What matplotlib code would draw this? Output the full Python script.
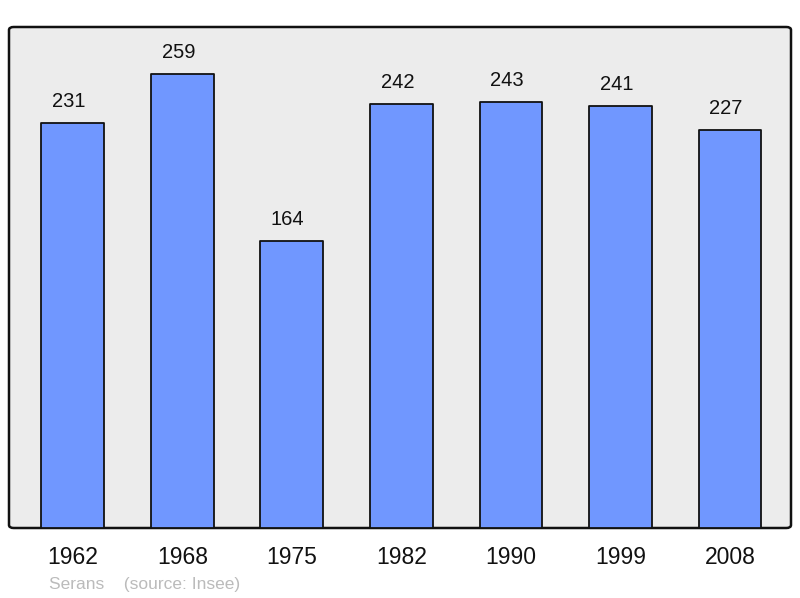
import matplotlib.pyplot as plt
from matplotlib.patches import FancyBboxPatch

# Population de Serans
years = ["1962", "1968", "1975", "1982", "1990", "1999", "2008"]
population = [231, 259, 164, 242, 243, 241, 227]

plt.rcParams['font.family'] = ['Liberation Sans', 'DejaVu Sans']

fig = plt.figure(figsize=(8, 5.98), dpi=100)
ax = fig.add_axes([9 / 800, 70 / 598, 782 / 800, 501 / 598])
ax.set_facecolor('none')

# fond gris avec coins arrondis
frame = FancyBboxPatch((0, 0), 1, 1, boxstyle="round,pad=0,rounding_size=0.006",
                       transform=ax.transAxes, facecolor='#ececec', edgecolor='#111111',
                       linewidth=1.8, zorder=0, clip_on=False)
ax.add_patch(frame)
for s in ax.spines.values():
    s.set_visible(False)

x = list(range(len(years)))
bars = ax.bar(x, population, width=0.575, color='#7097ff', edgecolor='#111111',
              linewidth=1.3, zorder=2)
for b in bars:
    b.set_joinstyle('round')

for xi, v in zip(x, population):
    ax.annotate(str(v), (xi, v), textcoords="offset points", xytext=(-3, 11.5),
                ha='center', va='baseline', fontsize=14.5, color='#111111')

ax.set_xlim(-0.584, 6.557)
ax.set_ylim(0, 285.8)
ax.set_xticks(x)
ax.set_xticklabels(years, fontsize=16.5, color='#111111')
ax.tick_params(axis='x', length=0, pad=13)
ax.set_yticks([])

fig.text(49 / 800, 1 - 585 / 598, "Serans    (source: Insee)", fontsize=12.5,
         color='#bbbbbb', ha='left', va='center')

plt.savefig("out.png", dpi=100)
